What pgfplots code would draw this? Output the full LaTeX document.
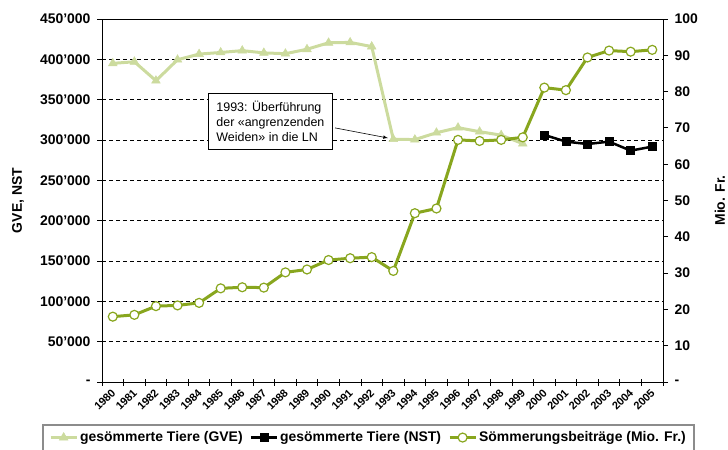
\documentclass[border=0pt]{standalone}
\usepackage{pgfplots}
\pgfplotsset{compat=1.18}
\usepackage{fontspec}
\setmainfont{Liberation Sans}
\definecolor{lgreen}{RGB}{204,219,158}
\definecolor{olive}{RGB}{136,166,30}
\pgfplotstableread{
year gve
1980 395000
1981 397000
1982 373500
1983 399500
1984 406500
1985 408500
1986 410800
1987 408000
1988 407000
1989 412500
1990 420500
1991 421000
1992 415800
1993 301000
1994 300500
1995 309000
1996 315300
1997 310300
1998 306000
1999 295500
}\gvetab
\pgfplotstableread{
year nst
2000 306300
2001 298000
2002 295000
2003 298000
2004 286800
2005 291800
}\nsttab
\pgfplotstableread{
year beitr
1980 18.0
1981 18.5
1982 20.9
1983 21.1
1984 21.8
1985 25.8
1986 26.1
1987 26.0
1988 30.2
1989 31.0
1990 33.6
1991 34.1
1992 34.4
1993 30.6
1994 46.5
1995 47.8
1996 66.7
1997 66.4
1998 66.7
1999 67.4
2000 81.1
2001 80.4
2002 89.4
2003 91.3
2004 91.0
2005 91.5
}\beitrtab
\pgfplotsset{
  common/.style={
    at={(102bp,-382bp)}, anchor=south west, scale only axis,
    width=561bp, height=363bp,
    xmin=1979.5, xmax=2005.5,
    scaled y ticks=false, scaled x ticks=false,
    axis line style={line width=1bp, black},
    every tick/.style={black, line width=0.8bp},
    yticklabel style={font=\bfseries\fontsize{14}{16}\selectfont},
    ylabel style={font=\bfseries\fontsize{14}{16}\selectfont},
  },
  legend image code/.code={%
    \draw[mark repeat=2,mark phase=2,#1] plot coordinates {(0bp,0bp) (13bp,0bp) (26bp,0bp)};},
}
\begin{document}
\begin{tikzpicture}[x=1bp,y=1bp]
\path[use as bounding box] (0,0) rectangle (728,-450);
\begin{axis}[common,
  ymin=0, ymax=450000,
  xtick pos=bottom, ytick pos=left,
  xtick={1980,...,2005},
  xticklabels={1980,1981,1982,1983,1984,1985,1986,1987,1988,1989,1990,1991,1992,1993,1994,1995,1996,1997,1998,1999,2000,2001,2002,2003,2004,2005},
  major x tick style={draw=none},
  minor xtick={1979.5,1980.5,...,2005.5},
  minor x tick style={black, line width=0.8bp},
  minor tick length=7bp,
  xtick align=center,
  xticklabel style={rotate=45, anchor=north east, font=\bfseries\fontsize{11}{13}\selectfont, xshift=-3bp, yshift=0bp, inner sep=1bp},
  ytick={0,50000,...,450000},
  yticklabels={-\hspace{16bp},50’000,100’000,150’000,200’000,250’000,300’000,350’000,400’000,450’000},
  ytick align=outside, major tick length=5bp,
  ymajorgrids,
  grid style={black, line width=0.6bp, dash pattern=on 4bp off 3bp},
  yticklabel style={xshift=-3bp},
  ylabel={GVE, NST},
  ylabel style={at={(axis description cs:-0.1497,0.5)}, anchor=center},
  legend columns=3,
  legend style={at={(axis description cs:0.475,-0.1157)}, anchor=north,
    draw=gray!90, line width=1.5bp, fill=white,
    font=\bfseries\fontsize{14}{16}\selectfont,
    inner xsep=6bp, inner ysep=5bp,
    /tikz/every even column/.append style={column sep=5bp}},
  legend cell align=left,
]
\addplot[lgreen, line width=3bp, mark=triangle*, mark size=5bp, mark options={fill=lgreen, line width=0.5bp}] table[x=year,y=gve]{\gvetab};
\addlegendentry{gesömmerte Tiere (GVE)}
\addplot[black, line width=2.5bp, mark=square*, mark size=4bp, mark options={line width=0.5bp}] table[x=year,y=nst]{\nsttab};
\addlegendentry{gesömmerte Tiere (NST)}
\addlegendimage{olive, line width=3bp, mark=*, mark size=4.5bp, mark options={fill=white, draw=olive, line width=1.2bp}}
\addlegendentry{Sömmerungsbeiträge (Mio. Fr.)}
\draw[-latex, line width=0.6bp] (axis cs:1990.3,315000) -- (axis cs:1992.75,302500);
\end{axis}
\begin{axis}[common,
  ymin=0, ymax=100,
  axis x line=none, axis y line*=right,
  ytick={0,10,...,100},
  yticklabels={-,10,20,30,40,50,60,70,80,90,100},
  ytick align=outside, major tick length=5bp,
  yticklabel style={xshift=3bp},
  ylabel={Mio. Fr.},
  ylabel style={at={(axis description cs:1.1016,0.5)}, anchor=center},
]
\addplot[olive, line width=3bp, mark=*, mark size=4.5bp, mark options={fill=white, draw=olive, line width=1.2bp}] table[x=year,y=beitr]{\beitrtab};
\end{axis}
\node[draw=black, line width=0.8bp, fill=white, align=left, inner xsep=8bp,
  minimum height=56bp, font=\fontsize{12.5}{14.7}\selectfont, anchor=north west]
  at (208,-93) {1993: Überführung\\der «angrenzenden\\Weiden» in die LN};
\end{tikzpicture}
\end{document}
